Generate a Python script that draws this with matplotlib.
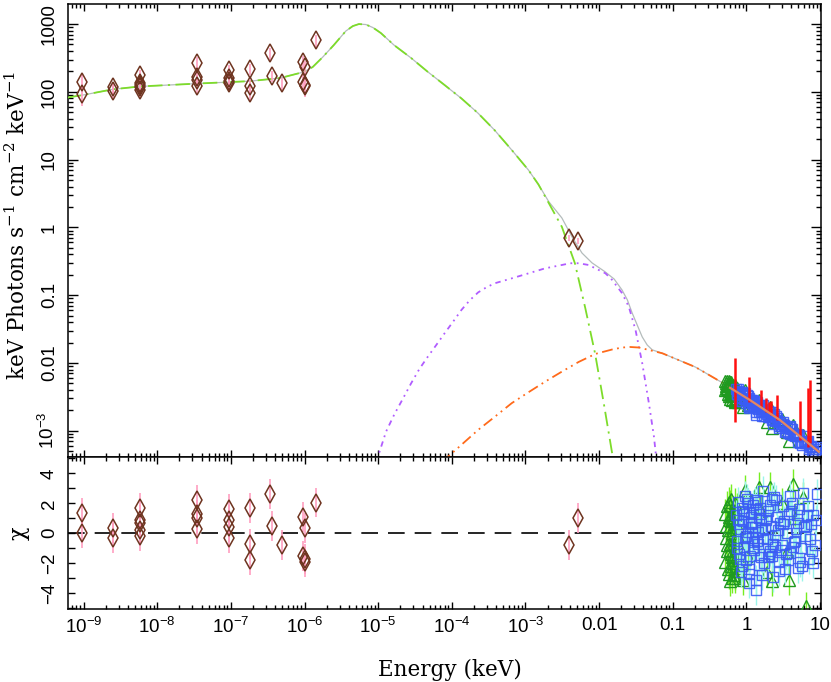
"""
Unfolded broadband spectrum (optical/UV + X-ray) with model components and
chi residuals, XSPEC style.
"""

import matplotlib
matplotlib.use('agg')
import matplotlib.pyplot as plt
from matplotlib.ticker import LogLocator, NullFormatter, MultipleLocator

##################################################################################
###                                DATA                                        ###
##################################################################################

# model components, energy in keV and flux in keV Photons s-1 cm-2 keV-1
comp_green_e = [5.9e-10, 1.0e-9, 2.5e-9, 5.8e-9, 3.8e-8, 1.84e-7, 4.7e-7, 9.7e-7, 1.29e-6,
                1.77e-6, 2.50e-6, 3.64e-6, 4.53e-6, 5.47e-6, 6.81e-6, 8.49e-6, 1.09e-5,
                1.64e-5, 2.8e-5, 4.7e-5, 7.98e-5, 1.35e-4, 2.28e-4, 3.8e-4, 6.5e-4, 1.1e-3,
                1.5e-3, 2.07e-3, 3.12e-3, 4.69e-3, 6.5e-3, 8.8e-3, 0.01156, 0.015, 0.0165]
comp_green_f = [82, 90, 109, 120, 133, 144, 160, 196, 232, 326, 490, 789, 934, 1000, 984, 888,
                736, 490, 316, 198, 126, 80, 48.2, 27.3, 13.9, 7.0, 4.3, 2.29, 1.02, 0.296,
                0.064, 0.0139, 2.55e-3, 4.7e-4, 2.6e-4]

comp_purple_e = [9.0e-6, 9.8e-6, 1.28e-5, 1.66e-5, 2.16e-5, 2.8e-5, 3.64e-5, 4.73e-5, 6.15e-5,
                 7.98e-5, 1.04e-4, 1.35e-4, 1.75e-4, 2.28e-4, 2.96e-4, 3.84e-4, 6.5e-4, 1.1e-3,
                 1.85e-3, 3.12e-3, 4.05e-3, 5.27e-3, 7.2e-3, 8.9e-3, 0.0122, 0.015, 0.0205,
                 0.0253, 0.0312, 0.0385, 0.0474, 0.0555, 0.0617]
comp_purple_f = [2.8e-4, 3.97e-4, 9.7e-4, 1.75e-3, 2.95e-3, 5.0e-3, 8.2e-3, 0.0124, 0.0184,
                 0.0274, 0.0406, 0.0605, 0.084, 0.110, 0.131, 0.150, 0.177, 0.210, 0.249,
                 0.279, 0.296, 0.296, 0.279, 0.249, 0.210, 0.168, 0.107, 0.0676, 0.0307,
                 9.9e-3, 2.55e-3, 8.2e-4, 2.8e-4]

comp_orange_e = [7.2e-5, 8.9e-5, 1.35e-4, 2.28e-4, 3.84e-4, 6.5e-4, 1.1e-3, 1.85e-3, 3.12e-3,
                 5.27e-3, 8.9e-3, 0.015, 0.0205, 0.0264, 0.0347, 0.0721, 0.203, 0.591, 1.11,
                 2.85, 8.0, 10.3]
comp_orange_f = [3.47e-4, 4.15e-4, 6.2e-4, 1.03e-3, 1.61e-3, 2.55e-3, 3.7e-3, 5.3e-3, 7.45e-3,
                 0.01035, 0.0136, 0.0158, 0.0169, 0.0172, 0.0169, 0.0139, 8.7e-3, 4.43e-3,
                 2.85e-3, 1.44e-3, 5.77e-4, 4.7e-4]

total_e = [5.9e-10, 1.0e-9, 2.5e-9, 5.8e-9, 3.8e-8, 1.84e-7, 4.7e-7, 9.7e-7, 1.29e-6, 1.77e-6,
           2.50e-6, 3.64e-6, 4.53e-6, 5.47e-6, 6.81e-6, 8.49e-6, 1.09e-5, 1.64e-5, 2.8e-5,
           4.7e-5, 7.98e-5, 1.35e-4, 2.28e-4, 3.8e-4, 6.5e-4, 1.1e-3, 1.5e-3, 2.07e-3, 3.12e-3,
           4.27e-3, 5.85e-3, 8.0e-3, 0.012, 0.016, 0.0205, 0.0242, 0.0281, 0.0329, 0.0385,
           0.045, 0.0527, 0.0721, 0.203, 0.591, 1.11, 2.85, 8.0, 10.3]
total_f = [82, 90, 109, 120, 133, 144, 160, 196, 232, 326, 490, 789, 934, 1000, 984, 888, 736,
           490, 316, 198, 126, 80, 48.2, 27.3, 13.9, 7.0, 4.3, 2.4, 1.38, 0.73, 0.419, 0.30,
           0.222, 0.173, 0.119, 0.085, 0.0546, 0.0363, 0.0242, 0.0184, 0.0156, 0.0139, 8.7e-3,
           4.43e-3, 2.85e-3, 1.44e-3, 5.77e-4, 4.7e-4]

# folded model through the X-ray band
xmodel_e = [0.6, 1.11, 2.85, 8.0, 9.6]
xmodel_f = [4.3e-3, 2.85e-3, 1.44e-3, 5.77e-4, 4.9e-4]

# optical / UV points (brown diamonds)
opt_e = [9.6e-10, 9.6e-10, 2.5e-9, 2.5e-9, 5.8e-9, 5.8e-9, 5.8e-9, 5.8e-9, 5.8e-9,
         3.5e-8, 3.5e-8, 3.5e-8, 3.5e-8, 9.3e-8, 9.3e-8, 9.3e-8, 9.3e-8, 1.8e-7, 1.8e-7,
         1.8e-7, 3.4e-7, 3.6e-7, 5.0e-7, 9.6e-7, 1.0e-6, 9.6e-7, 1.0e-6, 1.0e-6, 1.45e-6,
         3.9e-3, 5.2e-3]
opt_f = [141, 92, 116, 104, 177, 136, 128, 116, 108, 268, 164, 149, 122, 210, 158, 145, 133,
         217, 122, 95, 370, 171, 133, 278, 234, 141, 126, 120, 581, 0.70, 0.63]
opt_err = [38, 30, 25, 22, 32, 28, 26, 25, 24, 55, 30, 28, 26, 40, 30, 28, 26, 42, 28, 25,
           75, 30, 26, 60, 50, 35, 35, 35, 120, 0.08, 0.07]
opt_chi = [1.35, 0.0, 0.35, -0.3, 1.7, 0.87, 0.7, 0.2, -0.2, 2.2, 1.25, 1.0, 0.25, 1.65,
           0.87, 0.4, -0.3, 1.7, -0.75, -1.8, 2.6, 0.47, -0.8, 1.1, 0.35, -1.53, -1.7, -1.9,
           2.05, -0.8, 1.0]

# X-ray set 1 (green triangles)
grn_e = [0.53, 0.54, 0.55, 0.56, 0.57, 0.58, 0.59, 0.60, 0.61, 0.62, 0.63, 0.64, 0.65, 0.66,
         0.67, 0.68, 0.69, 0.70, 0.71, 0.72, 0.73, 0.74, 0.75, 0.76, 0.77, 0.55, 0.58, 0.62,
         0.66, 0.70, 0.90, 0.95, 1.05, 1.5, 1.6, 1.9, 2.1, 2.2, 3.0, 3.5, 4.3, 3.8, 5.9,
         6.5, 4.6,
         0.505, 0.515, 0.525, 0.575, 0.585, 0.595, 0.605, 0.615, 0.635, 0.645, 0.655, 0.675,
         0.695, 0.715, 0.745]
grn_f = [4.99e-3, 4.12e-3, 5.45e-3, 3.47e-3, 4.59e-3, 4.93e-3, 4.07e-3, 2.94e-3, 5.25e-3,
         4.56e-3, 3.50e-3, 4.12e-3, 4.68e-3, 3.22e-3, 4.22e-3, 3.78e-3, 4.68e-3, 2.78e-3,
         4.27e-3, 3.39e-3, 3.85e-3, 3.03e-3, 4.28e-3, 3.55e-3, 2.69e-3, 4.25e-3, 5.37e-3,
         3.63e-3, 4.39e-3, 2.70e-3, 2.21e-3, 3.95e-3, 2.41e-3, 2.86e-3, 2.38e-3, 1.35e-3,
         2.21e-3, 1.11e-3, 1.50e-3, 0.97e-3, 1.22e-3, 0.70e-3, 0.87e-3, 0.33e-3, 0.96e-3,
         3.99e-3, 5.48e-3, 4.64e-3, 3.26e-3, 4.81e-3, 5.19e-3, 3.83e-3, 3.32e-3, 4.57e-3,
         2.87e-3, 4.21e-3, 3.37e-3, 2.99e-3, 4.06e-3, 3.46e-3]
grn_chi = [0.5, -1.2, 1.8, -2.4, 0.2, 1.1, -0.7, -3.2, 2.3, 0.8, -1.6, 0.0, 1.5, -2.0, 0.6,
           -0.4, 2.0, -2.8, 1.2, -1.0, 0.3, -1.8, 1.7, -0.2, -2.5, -0.8, 2.1, -1.4, 0.9, -3.0,
           -3.1, 2.9, -1.5, 3.1, 1.5, -2.6, 3.1, -3.2, 2.0, -1.2, 3.3, -3.1, 2.4, -4.9, 1.0,
           -1.9, 1.3, -0.3, -2.7, 0.9, 1.9, -1.1, -2.2, 1.0, -3.0, 0.4, -1.5, -2.3, 0.7, -0.6]

# X-ray set 2 (blue squares)
blu_e = [0.72, 0.75, 0.78, 0.80, 0.83, 0.86, 0.88, 0.91, 0.94, 0.97, 1.00, 1.04, 1.07, 1.10,
         1.14, 1.18, 1.22, 1.26, 1.30, 1.35, 1.40, 1.45, 1.50, 1.56, 1.62, 1.68, 1.75, 1.82,
         1.90, 1.98, 2.07, 2.16, 2.26, 2.37, 2.48, 2.60, 2.73, 2.87, 3.02, 3.18, 3.35, 3.53,
         3.73, 3.94, 4.17, 4.41, 4.67, 4.95, 5.25, 5.57, 5.91, 6.28, 6.67, 7.09, 7.54, 8.02,
         8.53, 9.07, 1.33, 2.21,
         0.74, 0.79, 0.85, 0.92, 0.99, 1.05, 1.12, 1.20, 1.28, 1.37, 1.47, 1.58, 1.70, 1.85,
         2.02, 2.20, 2.42, 2.66, 2.95, 3.27, 3.62, 4.03, 4.50, 5.05, 5.68, 6.40, 7.20, 8.10,
         1.43, 1.16,
         0.77, 0.82, 0.89, 0.96, 1.02, 1.09, 1.17, 1.24, 1.32, 1.41, 1.52, 1.64, 1.78, 1.94,
         2.12, 2.32, 2.55, 2.80, 3.10, 3.45, 3.85, 4.30, 4.80, 5.35, 6.00, 6.80, 7.70, 8.70,
         1.08, 1.55]
blu_f = [4.09e-3, 3.53e-3, 4.08e-3, 3.15e-3, 3.46e-3, 3.69e-3, 2.75e-3, 3.35e-3, 2.90e-3,
         3.55e-3, 2.58e-3, 2.88e-3, 3.07e-3, 2.23e-3, 2.78e-3, 2.56e-3, 2.88e-3, 2.29e-3,
         2.49e-3, 1.73e-3, 2.64e-3, 2.12e-3, 2.33e-3, 1.87e-3, 2.08e-3, 2.39e-3, 1.67e-3,
         2.00e-3, 1.77e-3, 1.96e-3, 1.57e-3, 1.71e-3, 1.27e-3, 1.78e-3, 1.46e-3, 1.52e-3,
         1.17e-3, 1.36e-3, 1.17e-3, 1.34e-3, 0.95e-3, 1.09e-3, 1.13e-3, 0.90e-3, 1.07e-3,
         0.86e-3, 0.88e-3, 0.68e-3, 0.86e-3, 0.69e-3, 0.83e-3, 0.66e-3, 0.68e-3, 0.53e-3,
         0.59e-3, 0.585e-3, 0.48e-3, 0.58e-3, 1.86e-3, 1.45e-3,
         3.44e-3, 3.67e-3, 2.72e-3, 3.43e-3, 2.93e-3, 3.24e-3, 2.43e-3, 2.64e-3, 2.35e-3,
         2.59e-3, 1.89e-3, 2.22e-3, 1.94e-3, 1.99e-3, 1.58e-3, 1.89e-3, 1.41e-3, 1.40e-3,
         1.17e-3, 1.22e-3, 0.94e-3, 1.07e-3, 0.85e-3, 0.84e-3, 0.62e-3, 0.67e-3, 0.57e-3,
         0.46e-3, 2.27e-3, 2.84e-3,
         3.82e-3, 3.01e-3, 3.56e-3, 2.98e-3, 3.38e-3, 2.30e-3, 2.75e-3, 2.33e-3, 2.75e-3,
         2.20e-3, 2.35e-3, 1.64e-3, 1.95e-3, 1.59e-3, 1.90e-3, 1.47e-3, 1.65e-3, 1.09e-3,
         1.26e-3, 1.00e-3, 1.19e-3, 0.86e-3, 0.91e-3, 0.66e-3, 0.71e-3, 0.70e-3, 0.51e-3,
         0.54e-3, 2.15e-3, 2.37e-3]
blu_chi = [1.2, -0.5, 2.1, -1.4, 0.3, 1.7, -2.2, 0.8, -0.9, 2.5, -1.8, 0.1, 1.4, -2.7, 0.6,
           -0.3, 1.9, -1.1, 0.4, -3.8, 2.2, -0.7, 1.0, -1.6, 0.2, 2.8, -2.0, 0.9, -0.4, 1.5,
           -1.2, 0.5, -2.9, 2.4, -0.1, 1.1, -1.9, 0.7, -0.8, 1.8, -2.4, 0.0, 1.3, -1.3, 2.0,
           -0.6, 0.3, -2.3, 1.6, -1.0, 2.7, -0.2, 1.2, -1.7, 0.6, 1.2, -0.8, 2.6, -3.1, -1.5,
           -1.0, 0.6, -2.6, 1.3, -0.2, 2.0, -1.5, 0.4, -0.6, 1.6, -2.1, 0.9, -0.3, 1.0, -1.4,
           2.3, -0.9, 0.2, -1.1, 0.8, -1.8, 1.5, -0.5, 0.7, -2.2, 0.5, -0.4, -2.0, 0.1, 1.1,
           0.9, -1.7, 1.5, -0.3, 2.3, -2.4, 0.7, -1.0, 2.1, -0.5, 1.3, -2.8, 0.3, -1.6, 1.9,
           -0.7, 2.2, -2.5, 0.6, -1.4, 2.5, -0.9, 1.2, -1.9, 0.4, 1.8, -1.2, 0.9, -3.3, 1.7]

# X-ray set 3 (red, error bars only): energy, lower and upper flux
red_e = [0.70, 1.10, 1.58, 1.85, 2.02, 2.17, 2.59, 5.40, 6.87, 7.38]
red_lo = [1.36e-3, 2.66e-3, 2.26e-3, 1.91e-3, 1.83e-3, 1.71e-3, 1.44e-3, 7.3e-4, 5.8e-4, 6.5e-4]
red_hi = [0.0119, 6.2e-3, 4.0e-3, 3.05e-3, 2.69e-3, 2.75e-3, 3.38e-3, 2.75e-3, 4.24e-3, 5.6e-3]

x_major = [1e-9, 1e-8, 1e-7, 1e-6, 1e-5, 1e-4, 1e-3, 0.01, 0.1, 1, 10]
x_labels = [r'$\mathregular{10^{-9}}$', r'$\mathregular{10^{-8}}$', r'$\mathregular{10^{-7}}$',
            r'$\mathregular{10^{-6}}$', r'$\mathregular{10^{-5}}$', r'$\mathregular{10^{-4}}$',
            r'$\mathregular{10^{-3}}$', '0.01', '0.1', '1', '10']
y_major = [1e-3, 0.01, 0.1, 1, 10, 100, 1000]
y_labels = [r'$\mathregular{10^{-3}}$', '0.01', '0.1', '1', '10', '100', '1000']
r_major = [-4, -2, 0, 2, 4]
r_labels = ['\u22124', '\u22122', '0', '2', '4']

##################################################################################
###                                SCRIPT                                      ###
##################################################################################

plt.rcParams['font.family'] = 'Liberation Sans'
plt.rcParams['font.size'] = 13.5
plt.rcParams['axes.linewidth'] = 1.1

fig = plt.figure(figsize=(8.31, 6.82), dpi=100)
ax = fig.add_axes([0.0815, 0.3295, 0.9065, 0.6647])
axr = fig.add_axes([0.0815, 0.1070, 0.9065, 0.2224])

# ---- top panel: unfolded spectrum
ax.plot(total_e, total_f, color='#b4bcbc', lw=0.9, zorder=2)
ax.plot(comp_green_e, comp_green_f, color='#7ddc2a', lw=1.3, ls=(0, (8, 3, 1.2, 3)), zorder=3)
ax.plot(comp_purple_e, comp_purple_f, color='#b05cff', lw=1.3,
        ls=(0, (3, 2.5, 1, 2.5, 1, 2.5)), zorder=3)
ax.plot(comp_orange_e, comp_orange_f, color='#ff6a1a', lw=1.3,
        ls=(0, (6, 2.5, 1, 2.5, 1, 2.5)), zorder=3)

ax.errorbar(opt_e, opt_f, yerr=opt_err, fmt='none', ecolor='#ff9ec0', elinewidth=1.2, zorder=4)
ax.plot(opt_e, opt_f, ls='none', marker='d', ms=9, mfc='none', mec='#6e3420', mew=1.1, zorder=5)

ax.plot(grn_e, grn_f, ls='none', marker='^', ms=9, mfc='none', mec='#1f9a1f', mew=1.0, zorder=4)
ax.plot(blu_e, blu_f, ls='none', marker='s', ms=7.5, mfc='none', mec='#3a5cf5', mew=1.0,
        alpha=0.9, zorder=5)
ax.vlines(red_e, red_lo, red_hi, color='#ff1010', lw=1.8, zorder=6)
ax.plot(xmodel_e, xmodel_f, color='#e4875f', lw=1.6, zorder=7)

ax.set_xscale('log')
ax.set_yscale('log')
ax.set_xlim(6.1e-10, 10.3)
ax.set_ylim(4.06e-4, 1980)

# ---- bottom panel: residuals
axr.axhline(0, color='black', lw=1.2, ls=(0, (10, 6)), zorder=1)
axr.errorbar(opt_e, opt_chi, yerr=1, fmt='none', ecolor='#ff9ec0', elinewidth=1.2, zorder=3)
axr.plot(opt_e, opt_chi, ls='none', marker='d', ms=9, mfc='none', mec='#6e3420', mew=1.1,
         zorder=4)
axr.errorbar(grn_e, grn_chi, yerr=1, fmt='none', ecolor='#77ee22', elinewidth=1.0, zorder=2)
axr.plot(grn_e, grn_chi, ls='none', marker='^', ms=9, mfc='none', mec='#1f9a1f', mew=1.0,
         zorder=3)
axr.errorbar(blu_e, blu_chi, yerr=1, fmt='none', ecolor='#9af5ea', elinewidth=1.0, zorder=4)
axr.plot(blu_e, blu_chi, ls='none', marker='s', ms=7.5, mfc='none', mec='#3a5cf5', mew=1.0,
         alpha=0.9, zorder=5)

axr.set_xscale('log')
axr.set_xlim(6.1e-10, 10.3)
axr.set_ylim(-5.07, 5.07)

# ---- ticks
for a in (ax, axr):
    a.tick_params(which='both', direction='in', top=True, right=True, width=1.0)
    a.tick_params(axis='x', which='major', length=5.2)
    a.tick_params(axis='x', which='minor', length=3)
    a.set_xticks(x_major)
    a.xaxis.set_minor_locator(LogLocator(base=10, subs=range(2, 10), numticks=40))
    a.xaxis.set_minor_formatter(NullFormatter())

ax.set_xticklabels([])
axr.set_xticks(x_major, labels=x_labels)
axr.tick_params(axis='x', pad=6)

ax.set_yticks(y_major, labels=y_labels, rotation=90, va='center')
ax.yaxis.set_minor_locator(LogLocator(base=10, subs=range(2, 10), numticks=40))
ax.yaxis.set_minor_formatter(NullFormatter())
ax.tick_params(axis='y', which='major', length=7.2, pad=7)
ax.tick_params(axis='y', which='minor', length=3.6)

axr.set_yticks(r_major, labels=r_labels, rotation=90, va='center')
axr.yaxis.set_minor_locator(MultipleLocator(1))
axr.tick_params(axis='y', which='both', length=5, pad=7)

# ---- labels
fig.text(450 / 831, 1 - 676 / 682, 'Energy (keV)', family='DejaVu Serif', fontsize=15.5,
         ha='center', va='baseline')
fig.text(18 / 831, 1 - 225 / 682,
         r'keV Photons s$^{\mathregular{-1}}$ cm$^{\mathregular{-2}}$ keV$^{\mathregular{-1}}$',
         family='DejaVu Serif', fontsize=15.5, rotation=90, ha='center', va='center')
fig.text(19 / 831, 1 - 533 / 682, '\u03c7', family='DejaVu Serif', fontsize=16,
         rotation=90, ha='center', va='center')

fig.savefig('out.png', dpi=100)
